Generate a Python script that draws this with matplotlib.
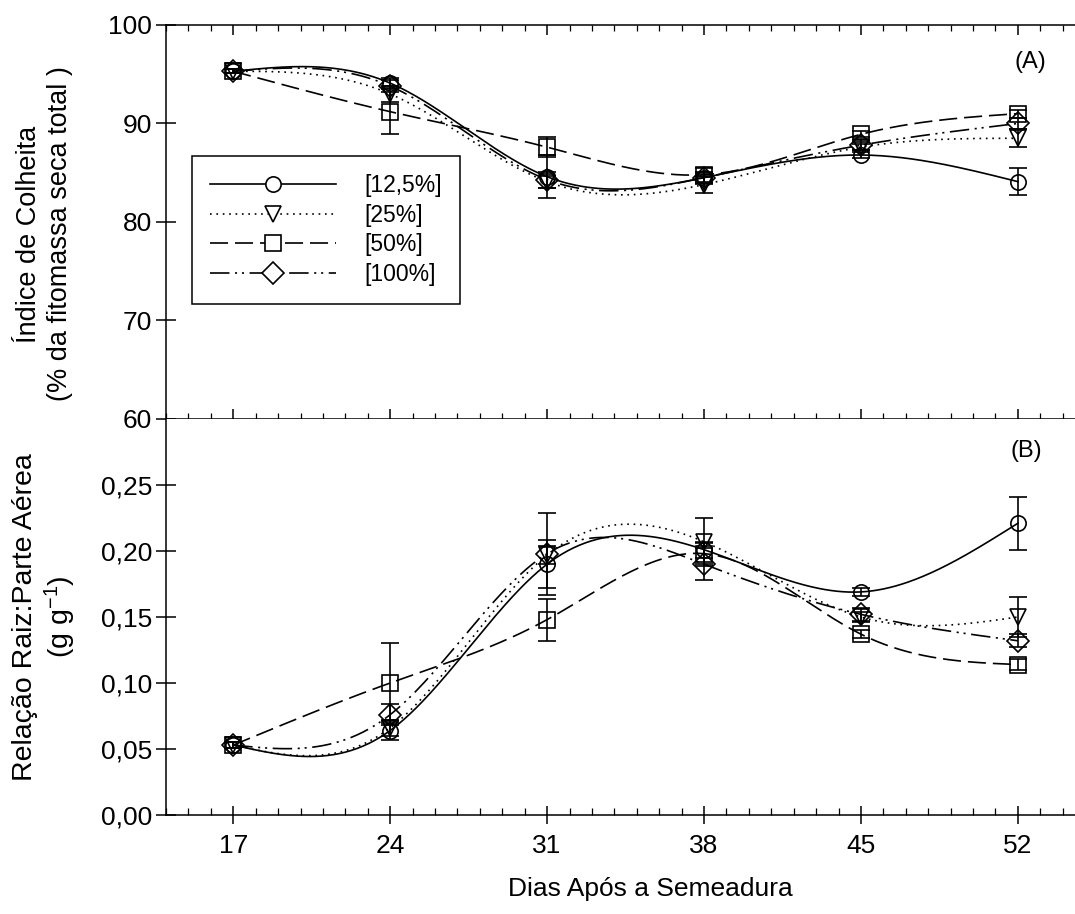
"""Harvest index and root:shoot ratio over days after sowing (two stacked panels)."""

import matplotlib
matplotlib.use("Agg")
import matplotlib.pyplot as plt
from matplotlib.ticker import FixedLocator, MultipleLocator, FuncFormatter
import numpy as np

plt.rcParams["font.family"] = ["Liberation Sans", "DejaVu Sans"]
plt.rcParams["mathtext.fontset"] = "custom"
plt.rcParams["mathtext.rm"] = "Liberation Sans"
plt.rcParams["mathtext.default"] = "regular"
plt.rcParams["lines.scale_dashes"] = False

# Days after sowing
days = [17, 24, 31, 38, 45, 52]
labels = ["[12,5%]", "[25%]", "[50%]", "[100%]"]

# Panel A - harvest index (%)
hi_125 = [95.3, 94.1, 84.6, 84.5, 86.8, 84.1]
hi_25 = [95.3, 93.0, 84.1, 83.8, 87.6, 88.5]
hi_50 = [95.3, 91.2, 87.6, 84.8, 88.9, 91.0]
hi_100 = [95.3, 93.8, 84.3, 84.5, 87.8, 90.0]
hi_err_125 = [0.2, 0.5, 2.2, 0.6, 0.3, 1.4]
hi_err_25 = [0.2, 0.8, 0.6, 0.9, 0.3, 0.9]
hi_err_50 = [0.2, 2.3, 1.0, 0.7, 0.3, 0.4]
hi_err_100 = [0.2, 0.6, 0.8, 0.5, 0.5, 0.6]

# Panel B - root:shoot ratio (g g-1)
rs_125 = [0.053, 0.064, 0.190, 0.201, 0.169, 0.221]
rs_25 = [0.053, 0.066, 0.197, 0.207, 0.150, 0.150]
rs_50 = [0.053, 0.100, 0.148, 0.198, 0.137, 0.114]
rs_100 = [0.053, 0.076, 0.198, 0.190, 0.152, 0.132]
rs_err_125 = [0.002, 0.007, 0.018, 0.006, 0.003, 0.020]
rs_err_25 = [0.002, 0.006, 0.007, 0.018, 0.004, 0.015]
rs_err_50 = [0.002, 0.030, 0.016, 0.008, 0.003, 0.004]
rs_err_100 = [0.002, 0.008, 0.031, 0.012, 0.005, 0.005]

markers = ["o", "v", "s", "D"]
styles = [
    "-",
    (0, (1.2, 3.4)),
    (0, (13, 5)),
    (0, (14, 4, 1.5, 3.5, 1.5, 4)),
]


def natural_spline(x, y, xs):
    """Natural cubic spline through (x, y), evaluated at xs."""
    x = np.asarray(x, float)
    y = np.asarray(y, float)
    n = len(x)
    h = np.diff(x)
    A = np.zeros((n, n))
    r = np.zeros(n)
    A[0, 0] = A[-1, -1] = 1
    for i in range(1, n - 1):
        A[i, i - 1] = h[i - 1]
        A[i, i] = 2 * (h[i - 1] + h[i])
        A[i, i + 1] = h[i]
        r[i] = 6 * ((y[i + 1] - y[i]) / h[i] - (y[i] - y[i - 1]) / h[i - 1])
    m = np.linalg.solve(A, r)
    idx = np.clip(np.searchsorted(x, xs) - 1, 0, n - 2)
    t0, t1 = x[idx], x[idx + 1]
    hh = t1 - t0
    a = (t1 - xs) / hh
    b = (xs - t0) / hh
    return a * y[idx] + b * y[idx + 1] + ((a**3 - a) * m[idx] + (b**3 - b) * m[idx + 1]) * hh**2 / 6


def draw_panel(ax, series, errors):
    xs = np.linspace(days[0], days[-1], 400)
    for vals, errs, mk, ls in zip(series, errors, markers, styles):
        ax.plot(xs, natural_spline(days, vals, xs), color="black", lw=1.2, linestyle=ls)
        ax.errorbar(days, vals, yerr=errs, fmt="none", ecolor="black",
                    elinewidth=1.2, capsize=6.5, capthick=1.2)
        ax.plot(days, vals, linestyle="none", marker=mk, markersize=11,
                markerfacecolor="none", markeredgecolor="black", markeredgewidth=1.2)


fig = plt.figure(figsize=(10.75, 9.14), dpi=100)
left = 166 / 1075
width = 1 - left
ax_a = fig.add_axes([left, 1 - 419 / 914, width, 394 / 914])
ax_b = fig.add_axes([left, 1 - 815 / 914, width, 396 / 914])

draw_panel(ax_a, [hi_125, hi_25, hi_50, hi_100],
           [hi_err_125, hi_err_25, hi_err_50, hi_err_100])
draw_panel(ax_b, [rs_125, rs_25, rs_50, rs_100],
           [rs_err_125, rs_err_25, rs_err_50, rs_err_100])

for ax in (ax_a, ax_b):
    ax.set_xlim(14, 54.55)
    ax.xaxis.set_major_locator(FixedLocator(days))
    ax.xaxis.set_minor_locator(MultipleLocator(1))
    ax.spines["right"].set_visible(False)
    for s in ("left", "top", "bottom"):
        ax.spines[s].set_linewidth(1.1)
    ax.tick_params(axis="y", which="major", direction="inout", length=14,
                   width=1.1, labelsize=19, pad=3)

# Panel A
ax_a.set_ylim(60, 100)
ax_a.yaxis.set_major_locator(FixedLocator([60, 70, 80, 90, 100]))
ax_a.tick_params(axis="x", which="major", direction="in", length=7, width=1.1,
                 top=True, bottom=True, labelbottom=False)
ax_a.tick_params(axis="x", which="minor", direction="in", length=4, width=0.9,
                 top=True, bottom=True)
ax_a.text(52.55, 96.2, "(A)", fontsize=17, ha="center", va="center")

# Panel B
ax_b.set_ylim(0, 0.30)
ax_b.yaxis.set_major_locator(FixedLocator([0, 0.05, 0.10, 0.15, 0.20, 0.25]))
ax_b.yaxis.set_major_formatter(FuncFormatter(lambda v, p: f"{v:.2f}".replace(".", ",")))
ax_b.spines["top"].set_visible(False)
ax_b.tick_params(axis="x", which="major", direction="inout", length=13, width=1.1,
                 labelsize=19, pad=7)
ax_b.tick_params(axis="x", which="minor", direction="in", length=5, width=0.9)
ax_b.text(52.4, 0.276, "(B)", fontsize=17, ha="center", va="center")

# Legend
handles = [
    ax_a.plot([], [], color="black", lw=1.2, linestyle=ls, marker=mk, markersize=11,
              markerfacecolor="white", markeredgecolor="black", markeredgewidth=1.2)[0]
    for mk, ls in zip(markers, styles)
]
leg = ax_a.legend(handles, labels, loc="upper left",
                  bbox_to_anchor=((192 - 166) / 909, 1 - (156 - 25) / 394),
                  borderaxespad=0, numpoints=1, handlelength=5.5, handletextpad=1.2,
                  fontsize=16.5, labelspacing=0.28, borderpad=0.8, fancybox=False,
                  framealpha=1, edgecolor="black")
leg.get_frame().set_linewidth(1.1)

# Axis labels
fig.text(45 / 1075, 1 - 234 / 914, "Índice de Colheita\n(% da fitomassa seca total )",
         rotation=90, ha="center", va="center", fontsize=19.5, linespacing=1.25)
fig.text(45 / 1075, 1 - 617 / 914, "Relação Raiz:Parte Aérea\n(g g$^{-1}$)",
         rotation=90, ha="center", va="center", fontsize=20.5, linespacing=1.2)
fig.text(650 / 1075, 1 - 889 / 914, "Dias Após a Semeadura",
         ha="center", va="center", fontsize=19)

fig.savefig("out.png", dpi=100)
